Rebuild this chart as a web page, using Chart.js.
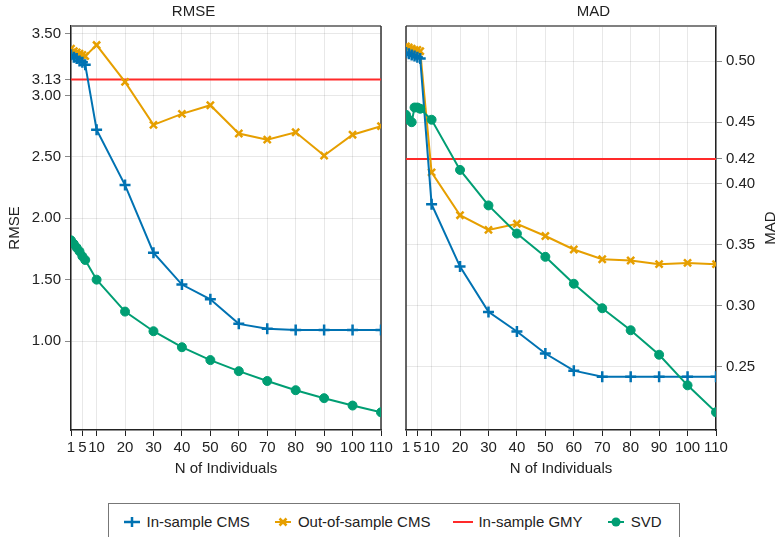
<!DOCTYPE html>
<html>
<head>
<meta charset="utf-8">
<script src="https://cdn.jsdelivr.net/npm/chart.js@4.4.1/dist/chart.umd.min.js"></script>
<style>
  body { margin: 0; background: #fff; width: 781px; height: 537px; overflow: hidden; position: relative;
         font-family: "Liberation Sans", Arial, sans-serif; color: #222; }
  #wrapL { position: absolute; left: 0; top: 0; }
  #wrapR { position: absolute; left: 385px; top: 0; }
  #legend { position: absolute; left: 108px; top: 503px; width: 572px; height: 40px; box-sizing: border-box;
            border: 1px solid #777; display: flex; align-items: flex-start; justify-content: center;
            gap: 22px; padding-top: 9px; padding-right: 6px; font-size: 15px; }
  .item { display: flex; align-items: center; gap: 4px; white-space: nowrap; }
  .item svg { display: block; }
</style>
</head>
<body>
<div id="wrapL"><canvas id="rmseChart" width="400" height="478"></canvas></div>
<div id="wrapR"><canvas id="madChart" width="396" height="478"></canvas></div>
<div id="legend"></div>
<script>
// x positions (N of individuals)
const nIndividuals = [1, 2, 3, 4, 5, 6, 10, 20, 30, 40, 50, 60, 70, 80, 90, 100, 110];
const xTicks = [1, 5, 10, 20, 30, 40, 50, 60, 70, 80, 90, 100, 110];

// RMSE panel
const rmseInCMS  = [3.33, 3.31, 3.30, 3.28, 3.27, 3.25, 2.72, 2.27, 1.72, 1.46, 1.34, 1.14, 1.10, 1.09, 1.09, 1.09, 1.09];
const rmseOutCMS = [3.38, 3.36, 3.35, 3.34, 3.33, 3.32, 3.41, 3.11, 2.76, 2.85, 2.92, 2.69, 2.64, 2.70, 2.51, 2.68, 2.75];
const rmseGMY = 3.13;
const rmseSVD    = [1.82, 1.79, 1.76, 1.73, 1.69, 1.66, 1.50, 1.24, 1.08, 0.95, 0.845, 0.755, 0.675, 0.60, 0.535, 0.475, 0.42];
const rmseTicks = [1.00, 1.50, 2.00, 2.50, 3.00, 3.13, 3.50];

// MAD panel
const madInCMS  = [0.507, 0.506, 0.505, 0.504, 0.503, 0.502, 0.383, 0.332, 0.295, 0.279, 0.261, 0.247, 0.242, 0.242, 0.242, 0.242, 0.242];
const madOutCMS = [0.512, 0.511, 0.510, 0.509, 0.509, 0.508, 0.409, 0.374, 0.362, 0.367, 0.357, 0.346, 0.338, 0.337, 0.334, 0.335, 0.334];
const madGMY = 0.42;
const madSVD    = [0.456, 0.452, 0.450, 0.462, 0.462, 0.461, 0.452, 0.411, 0.382, 0.359, 0.340, 0.318, 0.298, 0.280, 0.260, 0.235, 0.213];
const madTicks = [0.25, 0.30, 0.35, 0.40, 0.42, 0.45, 0.50];

const BLUE = '#0072B2', ORANGE = '#E69F00', RED = '#FF2A2A', GREEN = '#009E73';
const FONT = { family: '"Liberation Sans", Arial, sans-serif', size: 15, weight: 'normal' };

Chart.defaults.color = '#222';
Chart.defaults.font = FONT;

const pts = (ys) => nIndividuals.map((x, i) => ({ x, y: ys[i] }));

// box around each panel: gray top, dark side without an axis
const framePlugin = {
    id: 'frame',
    beforeDatasetsDraw(chart, args, opts) {
        const { ctx, chartArea: a } = chart;
        ctx.save();
        ctx.strokeStyle = '#808080';
        ctx.lineWidth = 2;
        ctx.beginPath();
        ctx.moveTo(a.left, a.top);
        ctx.lineTo(a.right, a.top);
        ctx.stroke();
        ctx.strokeStyle = '#333';
        ctx.lineWidth = 1.5;
        const sx = opts.side === 'left' ? a.left : a.right;
        ctx.beginPath();
        ctx.moveTo(sx, a.top);
        ctx.lineTo(sx, a.bottom);
        ctx.stroke();
        ctx.restore();
    }
};

// right axis title reading bottom-to-top, like the left one
const sideTitlePlugin = {
    id: 'sideTitle',
    afterDraw(chart, args, opts) {
        if (!opts.text) return;
        const { ctx, chartArea: a } = chart;
        ctx.save();
        ctx.font = `${FONT.size}px ${FONT.family}`;
        ctx.fillStyle = '#222';
        ctx.textAlign = 'center';
        ctx.textBaseline = 'middle';
        ctx.translate(opts.x, (a.top + a.bottom) / 2);
        ctx.rotate(-Math.PI / 2);
        ctx.fillText(opts.text, 0, 0);
        ctx.restore();
    }
};

function makePanel(id, cfg) {
    const line = (label, ys, color, style, radius, order) => ({
        label, data: pts(ys), borderColor: color, backgroundColor: color,
        borderWidth: 2, pointStyle: style, pointRadius: radius, pointBorderWidth: style === 'circle' ? 1 : 2.5,
        pointHoverRadius: radius, tension: 0, clip: 0, order
    });
    return new Chart(document.getElementById(id), {
        type: 'line',
        data: {
            datasets: [
                line('In-sample CMS', cfg.inCMS, BLUE, 'cross', 5.5, 1),
                line('Out-of-sample CMS', cfg.outCMS, ORANGE, 'crossRot', 5, 2),
                {
                    label: 'In-sample GMY', data: [{ x: 1, y: cfg.gmy }, { x: 110, y: cfg.gmy }],
                    borderColor: RED, borderWidth: 2, pointRadius: 0, clip: 0, order: 3
                },
                line('SVD', cfg.svd, GREEN, 'circle', 4.5, 0)
            ]
        },
        options: {
            responsive: false,
            animation: false,
            layout: { padding: cfg.padding },
            plugins: {
                legend: { display: false },
                tooltip: { enabled: false },
                title: { display: true, text: cfg.title, font: FONT, color: '#222', padding: { top: 3, bottom: 5 } },
                frame: { side: cfg.frameSide },
                sideTitle: cfg.sideTitle
            },
            scales: {
                x: {
                    type: 'linear', min: 1, max: 110,
                    afterBuildTicks: (s) => { s.ticks = xTicks.map(v => ({ value: v })); },
                    afterFit: (s) => { s.height = 48; },
                    ticks: { autoSkip: false, maxRotation: 0, padding: 3, color: '#222', callback: v => String(v) },
                    grid: { color: 'rgba(0,0,0,0.09)', tickColor: '#222', tickLength: 6 },
                    border: { color: '#222', width: 1.5 },
                    title: { display: true, text: 'N of Individuals', font: FONT, color: '#222', padding: 0 }
                },
                y: {
                    type: 'linear', position: cfg.yPos, min: cfg.yMin, max: cfg.yMax,
                    afterBuildTicks: (s) => { s.ticks = cfg.yTicks.map(v => ({ value: v })); },
                    afterFit: (s) => { s.width = cfg.yWidth; },
                    ticks: { autoSkip: false, padding: 4, color: '#222', callback: v => v.toFixed(2) },
                    grid: { color: 'rgba(0,0,0,0.09)', tickColor: '#888', tickLength: 6 },
                    border: { color: '#222', width: 1.5 },
                    title: { display: !!cfg.yTitle, text: cfg.yTitle, font: FONT, color: '#222', padding: 0 }
                }
            }
        },
        plugins: [framePlugin, sideTitlePlugin]
    });
}

document.addEventListener('DOMContentLoaded', () => {
    makePanel('rmseChart', {
        title: 'RMSE', inCMS: rmseInCMS, outCMS: rmseOutCMS, gmy: rmseGMY, svd: rmseSVD,
        yTicks: rmseTicks, yMin: 0.276, yMax: 3.565, yPos: 'left', yWidth: 65, yTitle: 'RMSE',
        padding: { left: 6, right: 19, top: 0, bottom: 0 }, frameSide: 'right', sideTitle: {}
    });
    makePanel('madChart', {
        title: 'MAD', inCMS: madInCMS, outCMS: madOutCMS, gmy: madGMY, svd: madSVD,
        yTicks: madTicks, yMin: 0.1985, yMax: 0.5286, yPos: 'right', yWidth: 65, yTitle: '',
        padding: { left: 21, right: 0, top: 0, bottom: 0 }, frameSide: 'left',
        sideTitle: { text: 'MAD', x: 386 }
    });

    // legend built in html, symbols as small svg marks
    const items = [
        ['In-sample CMS', BLUE, '<path d="M3 8H19M11 3V13" stroke-width="2.5"/>'],
        ['Out-of-sample CMS', ORANGE, '<path d="M3 8H19" stroke-width="2"/><path d="M7.5 4.5L14.5 11.5M14.5 4.5L7.5 11.5" stroke-width="2.5"/>'],
        ['In-sample GMY', RED, '<path d="M1 8H21" stroke-width="2"/>'],
        ['SVD', GREEN, '<path d="M3 8H19" stroke-width="2"/><circle cx="11" cy="8" r="4.5" stroke="none"/>']
    ];
    const legend = document.getElementById('legend');
    items.forEach(([label, color, marks]) => {
        const el = document.createElement('span');
        el.className = 'item';
        el.innerHTML = `<svg width="22" height="16" stroke="${color}" fill="${color}">${marks}</svg><span>${label}</span>`;
        legend.appendChild(el);
    });
});
</script>
</body>
</html>
